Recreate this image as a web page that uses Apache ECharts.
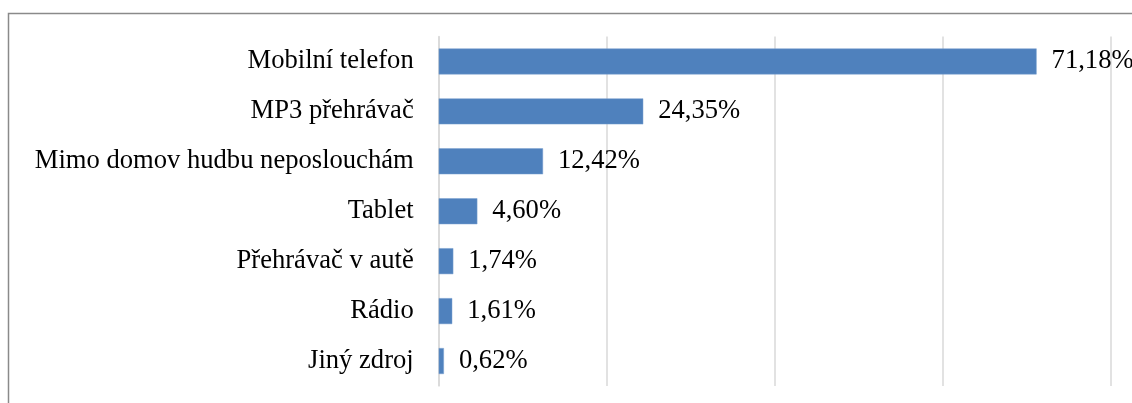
<!DOCTYPE html>
<html>
<head>
<meta charset="utf-8">
<style>
  html, body { margin: 0; padding: 0; background: #ffffff; }
  #chart { width: 1132px; height: 403px; }
</style>
<script src="https://cdn.jsdelivr.net/npm/echarts@6/dist/echarts.min.js"></script>
</head>
<body>
<div id="chart"></div>
<script>
// categories, top to bottom
var categories = ['Mobilní telefon', 'MP3 přehrávač', 'Mimo domov hudbu neposlouchám', 'Tablet', 'Přehrávač v autě', 'Rádio', 'Jiný zdroj']
// percent values
var values = [71.18, 24.35, 12.42, 4.60, 1.74, 1.61, 0.62]

var fontName = '"Liberation Serif", "Times New Roman", serif'

var myChart = echarts.init(document.getElementById('chart'))
var option = {
  backgroundColor: '#ffffff',
  animation: false,
  graphic: [{
    type: 'rect',
    shape: { x: 8.5, y: 13.5, width: 1140, height: 420 },
    style: { fill: 'none', stroke: '#8a8a8a', lineWidth: 1.5 },
    silent: true
  }],
  grid: {
    left: 438.7,
    right: 21.3,
    top: 36.5,
    bottom: 17
  },
  xAxis: {
    type: 'value',
    min: 0,
    max: 80,
    interval: 20,
    axisLabel: { show: false },
    axisTick: { show: false },
    axisLine: { show: false },
    splitLine: {
      show: true,
      lineStyle: { color: '#d9d9d9', width: 1.5 }
    }
  },
  yAxis: {
    type: 'category',
    inverse: true,
    data: categories,
    axisTick: { show: false },
    axisLine: {
      show: true,
      lineStyle: { color: '#d9d9d9', width: 1.5 }
    },
    axisLabel: {
      color: '#000000',
      fontFamily: fontName,
      fontSize: 26.6,
      margin: 25
    }
  },
  series: [{
    type: 'bar',
    data: values,
    barWidth: '52%',
    itemStyle: {
      color: '#4f81bd',
      borderColor: '#7aa0d0',
      borderWidth: 0.5
    },
    label: {
      show: true,
      position: 'right',
      distance: 15,
      color: '#000000',
      fontFamily: fontName,
      fontSize: 26.6,
      formatter: function (p) {
        return p.value.toFixed(2).replace('.', ',') + '%'
      }
    }
  }]
}
myChart.setOption(option)
</script>
</body>
</html>
